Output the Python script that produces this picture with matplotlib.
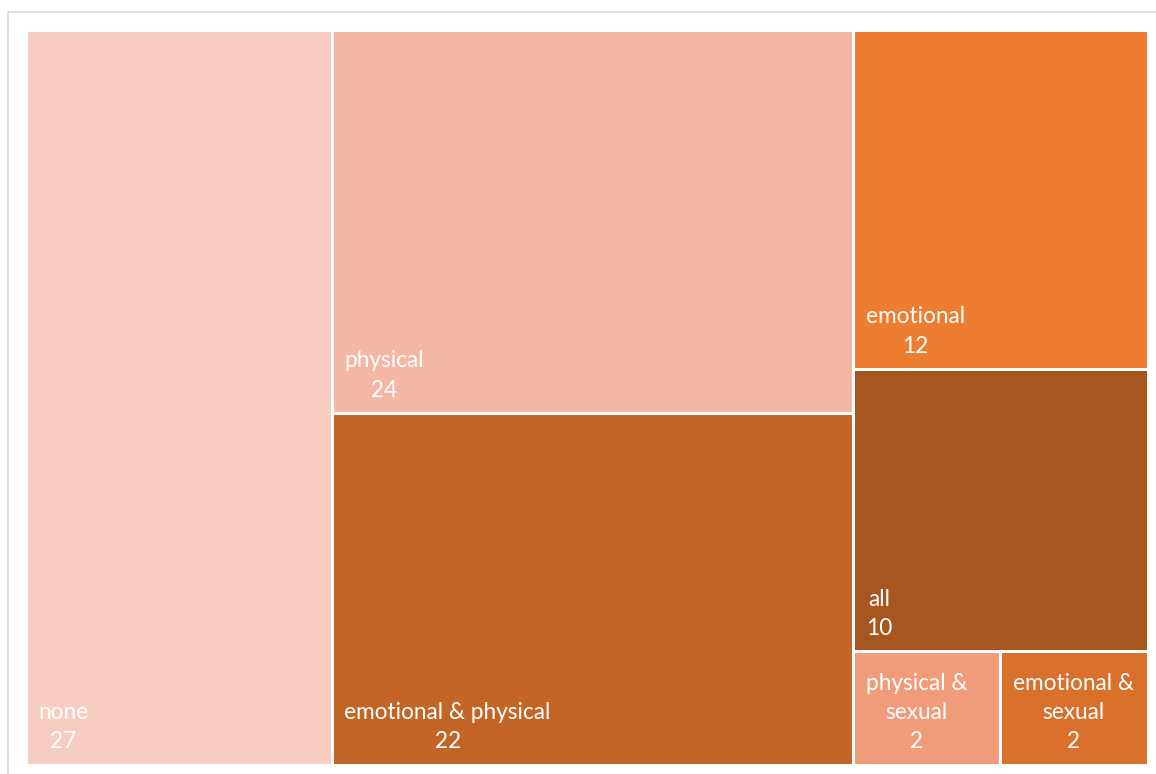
import textwrap
import matplotlib
matplotlib.use("Agg")
import matplotlib.pyplot as plt
from matplotlib.patches import Rectangle

plt.rcParams['font.family'] = ['Lato', 'DejaVu Sans']

# ---- data ----
categories = ["none", "physical", "emotional & physical", "emotional", "all",
              "physical & sexual", "emotional & sexual"]
values = [27, 24, 22, 12, 10, 2, 2]
colors = ["#F8CDC1", "#F4B7A3", "#C36527", "#ED7D31", "#A8561F",
          "#F09C7B", "#D9712D"]
# layout structure: columns -> rows -> cells (indices into categories)
columns = [[[0]], [[1], [2]], [[3], [4], [5, 6]]]

# ---- figure ----
W_PX, H_PX = 1156, 774
fig = plt.figure(figsize=(W_PX / 100, H_PX / 100), dpi=100)
ax = fig.add_axes([0, 0, 1, 1])
ax.set_xlim(0, W_PX)
ax.set_ylim(H_PX, 0)
ax.axis("off")

# outer frame
ax.add_patch(Rectangle((8, 12), 1160, 780, facecolor="white",
                       edgecolor="#D9D9D9", linewidth=1.2))

X0, Y0, W, H = 26, 30, 1122, 735
gap = 3
total = sum(values)
x = X0
for col in columns:
    colsum = sum(values[i] for row in col for i in row)
    cw = colsum / total * W
    y = Y0
    for row in col:
        rowsum = sum(values[i] for i in row)
        rh = rowsum / colsum * H
        cx = x
        for i in row:
            w = values[i] / rowsum * cw
            rx, ry = cx + gap / 2, y + gap / 2
            rw, rhh = w - gap, rh - gap
            ax.add_patch(Rectangle((rx, ry), rw, rhh, facecolor=colors[i],
                                   edgecolor="none"))
            lab = textwrap.fill(categories[i], width=max(4, int(rw / 11)))
            ax.text(rx + 11, ry + rhh - 11, f"{lab}\n{values[i]}",
                    ha="left", va="bottom", multialignment="center",
                    color="white", fontsize=16.3, linespacing=1.5)
            cx += w
        y += rh
    x += cw

fig.savefig("out.png", dpi=100)
